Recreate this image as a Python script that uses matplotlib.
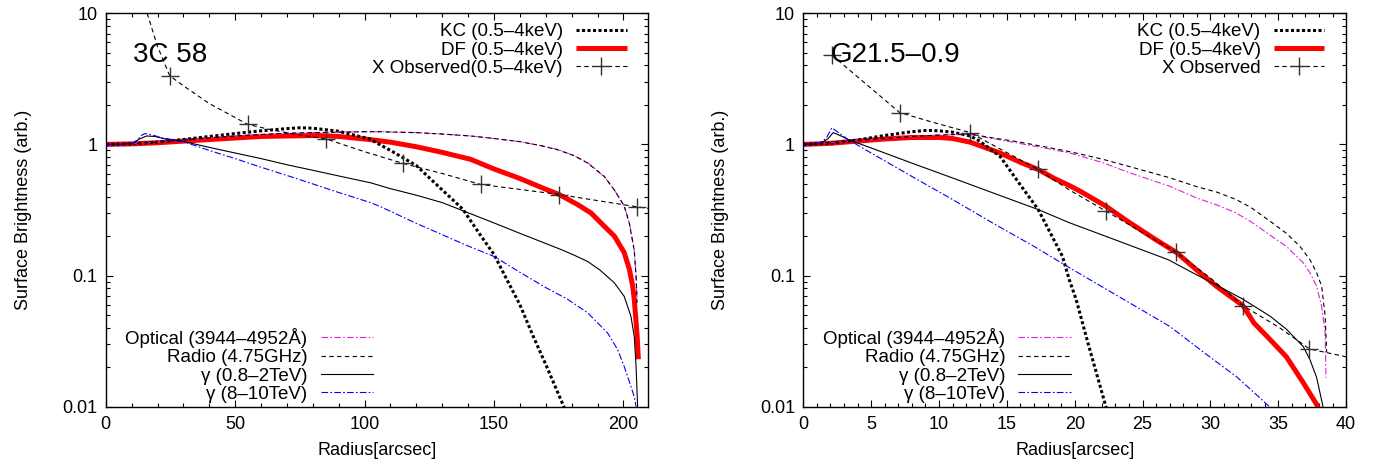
import matplotlib
matplotlib.use('Agg')
from matplotlib import pyplot as plt
from matplotlib.lines import Line2D
from matplotlib.ticker import MultipleLocator, LogLocator, FuncFormatter, NullFormatter

plt.rcParams['font.family'] = ['Liberation Sans', 'DejaVu Sans']

# ---------------- 3C 58 (left panel) ----------------
kc_l_x = [0, 10, 20, 30, 40, 50, 60, 70, 75, 80, 90, 102, 110, 120, 130, 138, 145, 150, 155, 160, 165, 170, 177, 181]
kc_l_v = [1.0, 1.01, 1.04, 1.09, 1.15, 1.21, 1.27, 1.32, 1.34, 1.33, 1.26, 1.10, 0.90, 0.69, 0.45, 0.32, 0.2, 0.145, 0.093, 0.06, 0.035, 0.021, 0.01, 0.006]

df_l_x = [0, 10, 20, 30, 40, 50, 60, 70, 82, 90, 102, 110, 120, 130, 141, 150, 160, 170, 175.2, 182.3, 187.5, 192.6, 196.5, 200.3, 202.3, 203.6, 204.2, 205.3, 205.8]
df_l_v = [1.0, 1.01, 1.03, 1.06, 1.09, 1.12, 1.15, 1.16, 1.17, 1.15, 1.09, 1.04, 0.96, 0.87, 0.77, 0.65, 0.55, 0.455, 0.415, 0.348, 0.30, 0.238, 0.20, 0.15, 0.112, 0.083, 0.066, 0.035, 0.023]

xobs_l_x = [16, 20, 24.7, 30, 40, 54.9, 65, 75, 85.2, 100, 114.9, 130, 144.9, 160, 175.2, 190, 205.1, 209.5]
xobs_l_v = [10, 5.6, 3.34, 2.8, 2.05, 1.42, 1.28, 1.18, 1.10, 0.88, 0.716, 0.60, 0.495, 0.454, 0.415, 0.373, 0.335, 0.325]
xpts_l_x = [24.7, 54.9, 85.2, 114.9, 144.9, 175.2, 205.1]
xpts_l_v = [3.34, 1.42, 1.10, 0.716, 0.495, 0.415, 0.335]

opt_l_x = [0, 10, 20, 30, 40, 50, 60, 70, 80, 90, 100, 106, 120, 130, 141, 150, 160, 168, 174.6, 181, 186.2, 192.6, 196.5, 200.3, 202.3, 204.2, 204.9, 205.3]
opt_l_v = [1.0, 1.01, 1.04, 1.08, 1.12, 1.16, 1.19, 1.21, 1.23, 1.24, 1.25, 1.25, 1.23, 1.2, 1.16, 1.11, 1.05, 0.98, 0.916, 0.82, 0.725, 0.57, 0.45, 0.34, 0.253, 0.158, 0.10, 0.066]

rad_l_x = [0, 10, 20, 30, 40, 50, 60, 70, 80, 90, 100, 106, 120, 130, 141, 150, 160, 168, 174.6, 181, 186.2, 192.6, 196.5, 200.3, 202.3, 204.2, 204.9, 205.3]
rad_l_v = [1.0, 1.01, 1.04, 1.08, 1.12, 1.16, 1.19, 1.22, 1.23, 1.24, 1.25, 1.25, 1.23, 1.2, 1.16, 1.11, 1.05, 0.98, 0.91, 0.82, 0.72, 0.57, 0.45, 0.34, 0.25, 0.155, 0.098, 0.062]

g1_l_x = [0, 5, 10.5, 13, 15.8, 19, 23, 29.4, 40, 50, 60, 70, 80, 90, 102.3, 110, 120, 130, 138.4, 150, 160, 175.9, 181, 186.2, 191, 196.5, 200.3, 202.9, 204.2, 204.9, 205.5]
g1_l_v = [1.0, 1.0, 1.02, 1.1, 1.16, 1.15, 1.1, 1.06, 0.95, 0.86, 0.78, 0.7, 0.635, 0.575, 0.51, 0.46, 0.41, 0.36, 0.31, 0.252, 0.21, 0.158, 0.143, 0.128, 0.11, 0.088, 0.0695, 0.049, 0.0344, 0.0203, 0.01]

g2_l_x = [0, 5, 10.5, 12.5, 14, 15.2, 18, 22, 29.4, 40, 50, 60, 70, 80, 90, 102.3, 106.2, 120, 130, 140, 150, 160, 170, 178.4, 186.2, 193.9, 197.8, 200.3, 202.9, 204.2, 204.9]
g2_l_v = [1.0, 1.0, 1.02, 1.1, 1.18, 1.21, 1.18, 1.12, 1.06, 0.9, 0.78, 0.67, 0.58, 0.5, 0.43, 0.36, 0.335, 0.25, 0.205, 0.168, 0.14, 0.106, 0.081, 0.066, 0.052, 0.0365, 0.0272, 0.0203, 0.0143, 0.0119, 0.01]

# ---------------- G21.5-0.9 (right panel) ----------------
kc_r_x = [0, 2, 4, 6, 8, 9.1, 10, 11, 12.3, 13, 14.5, 15, 16, 17.3, 18, 19.1, 19.6, 20.1, 21, 22.3, 22.7]
kc_r_v = [1.0, 1.02, 1.08, 1.17, 1.25, 1.28, 1.27, 1.24, 1.16, 1.06, 0.81, 0.686, 0.49, 0.32, 0.232, 0.14, 0.093, 0.066, 0.03, 0.01, 0.0075]

df_r_x = [0, 2, 4, 6, 8, 10, 11, 12.3, 13, 14.5, 16, 17.3, 18.5, 19.6, 20.4, 22.3, 24, 26, 27.5, 29, 30.5, 32.4, 33.2, 34.4, 35.6, 36.85, 37.83, 38.1]
df_r_v = [1.0, 1.02, 1.06, 1.1, 1.13, 1.13, 1.11, 1.04, 0.98, 0.86, 0.73, 0.645, 0.55, 0.486, 0.44, 0.338, 0.255, 0.187, 0.150, 0.11, 0.082, 0.059, 0.0436, 0.0325, 0.024, 0.0152, 0.0104, 0.009]

xobs_r_x = [2.1, 4.6, 7.1, 9.6, 12.3, 14.7, 17.3, 19.6, 22.3, 25.1, 27.5, 30.1, 32.4, 35.1, 37.3, 38.6, 40]
xobs_r_v = [4.8, 2.9, 1.75, 1.47, 1.23, 0.9, 0.645, 0.45, 0.31, 0.21, 0.150, 0.094, 0.059, 0.04, 0.0276, 0.0258, 0.024]
xpts_r_x = [2.1, 7.1, 12.3, 17.3, 22.3, 27.5, 32.4, 37.3]
xpts_r_v = [4.8, 1.75, 1.23, 0.645, 0.31, 0.150, 0.059, 0.0276]

opt_r_x = [0, 2, 4, 6, 8, 10, 12.3, 14, 16, 18, 19.65, 22, 24, 27.0, 29, 30.5, 31.9, 33.0, 34.5, 35.6, 36.85, 37.34, 37.83, 38.2, 38.45, 38.52]
opt_r_v = [1.0, 1.03, 1.07, 1.11, 1.15, 1.18, 1.19, 1.107, 1.015, 0.93, 0.86, 0.73, 0.61, 0.48, 0.39, 0.345, 0.30, 0.257, 0.2, 0.167, 0.125, 0.105, 0.083, 0.058, 0.037, 0.0166]

rad_r_x = [0, 2, 4, 6, 8, 10, 12.3, 14, 16, 18, 19.65, 22, 24, 27.0, 29, 30.5, 31.9, 33.0, 34.5, 35.6, 36.6, 37.34, 37.83, 38.2, 38.45, 38.57]
rad_r_v = [1.0, 1.03, 1.07, 1.11, 1.15, 1.18, 1.2, 1.12, 1.04, 0.95, 0.88, 0.774, 0.68, 0.557, 0.476, 0.432, 0.38, 0.33, 0.255, 0.21, 0.167, 0.132, 0.105, 0.083, 0.05, 0.026]

g1_r_x = [0, 1.2, 1.8, 2.2, 2.7, 3.3, 5, 8, 11, 14, 17.3, 19.6, 23, 26.9, 28.7, 30.6, 32.4, 34.4, 35.6, 36.85, 37.34, 37.83, 38.3]
g1_r_v = [1.0, 1.01, 1.1, 1.23, 1.17, 1.09, 0.94, 0.72, 0.555, 0.426, 0.319, 0.253, 0.187, 0.132, 0.105, 0.083, 0.066, 0.049, 0.039, 0.0287, 0.0228, 0.0167, 0.01]

g2_r_x = [0, 1.2, 1.7, 2.1, 2.5, 3.3, 5, 8, 11, 14, 17, 19.6, 23, 27, 29.5, 31.9, 33.3, 34.35]
g2_r_v = [1.0, 1.02, 1.12, 1.34, 1.25, 1.09, 0.86, 0.57, 0.38, 0.25, 0.167, 0.115, 0.0716, 0.041, 0.026, 0.017, 0.0126, 0.01]

panels = [
    dict(name='3C 58', xmax=209.6, xmaj=50, xmin=10,
         kc=(kc_l_x, kc_l_v), df=(df_l_x, df_l_v), xl=(xobs_l_x, xobs_l_v), xp=(xpts_l_x, xpts_l_v),
         opt=(opt_l_x, opt_l_v), rad=(rad_l_x, rad_l_v), g1=(g1_l_x, g1_l_v), g2=(g2_l_x, g2_l_v),
         xlab='X Observed(0.5–4keV)', rect=[0.0763, 0.1347, 0.3914, 0.837]),
    dict(name='G21.5–0.9', xmax=40, xmaj=5, xmin=1,
         kc=(kc_r_x, kc_r_v), df=(df_r_x, df_r_v), xl=(xobs_r_x, xobs_r_v), xp=(xpts_r_x, xpts_r_v),
         opt=(opt_r_x, opt_r_v), rad=(rad_r_x, rad_r_v), g1=(g1_r_x, g1_r_v), g2=(g2_r_x, g2_r_v),
         xlab='X Observed', rect=[0.5796, 0.1347, 0.3916, 0.837]),
]

fig = plt.figure(figsize=(13.86, 4.70), dpi=100)
FS = 13
LFS = 13.5
magenta = '#e020e0'

for p in panels:
    ax = fig.add_axes(p['rect'])
    ax.set_yscale('log')

    # style of each series
    kc_style = dict(color='black', lw=2.2, linestyle=(0, (1, 0.8)))
    df_style = dict(color='red', lw=3.6, solid_capstyle='butt')
    xo_style = dict(color='black', lw=0.8, linestyle=(0, (4, 3)))
    op_style = dict(color=magenta, lw=0.8, linestyle=(0, (6, 2, 1.5, 2)))
    ra_style = dict(color='black', lw=0.8, linestyle=(0, (4, 3)))
    g1_style = dict(color='black', lw=0.8)
    g2_style = dict(color='blue', lw=0.8, linestyle=(0, (6, 2, 1.5, 2)))

    ax.plot(*p['df'], **df_style)
    ax.plot(*p['kc'], **kc_style)
    ax.plot(*p['opt'], **op_style)
    ax.plot(*p['rad'], **ra_style)
    ax.plot(*p['g1'], **g1_style)
    ax.plot(*p['g2'], **g2_style)
    ax.plot(*p['xl'], **xo_style)
    ax.plot(*p['xp'], linestyle='none', marker='+', ms=13, mew=1.0, color='0.2')

    ax.set_xlim(0, p['xmax'])
    ax.set_ylim(0.01, 10)
    ax.xaxis.set_major_locator(MultipleLocator(p['xmaj']))
    ax.xaxis.set_minor_locator(MultipleLocator(p['xmin']))
    ax.yaxis.set_major_locator(LogLocator(base=10, numticks=10))
    ax.yaxis.set_minor_locator(LogLocator(base=10, subs=range(2, 10), numticks=10))
    ax.yaxis.set_major_formatter(FuncFormatter(lambda v, pos: '%g' % v))
    ax.yaxis.set_minor_formatter(NullFormatter())
    ax.tick_params(which='both', direction='in', top=True, right=True, labelsize=FS)
    ax.tick_params(which='major', length=5, width=0.8)
    ax.tick_params(which='minor', length=3, width=0.8)
    ax.tick_params(axis='x', pad=7)
    ax.tick_params(axis='y', pad=6)
    for s in ax.spines.values():
        s.set_linewidth(1.0)

    ax.set_xlabel('Radius[arcsec]', fontsize=FS, labelpad=6)
    ax.set_ylabel('Surface Brightness (arb.)', fontsize=FS, labelpad=22)
    ax.text(0.05, 0.876, p['name'], transform=ax.transAxes, fontsize=20,
            ha='left', va='baseline')

    h_top = [Line2D([], [], **kc_style), Line2D([], [], **df_style),
             Line2D([], [], marker='+', ms=13, mew=1.0, mec='0.2', **xo_style)]
    leg1 = ax.legend(h_top, ['KC (0.5–4keV)', 'DF (0.5–4keV)', p['xlab']],
                     loc='upper right', bbox_to_anchor=(0.96, 0.975), frameon=False,
                     markerfirst=False, numpoints=1, fontsize=LFS, handlelength=2.7,
                     handletextpad=0.7, labelspacing=0.06, borderpad=0, borderaxespad=0)
    ax.add_artist(leg1)

    h_bot = [Line2D([], [], **op_style), Line2D([], [], **ra_style),
             Line2D([], [], **g1_style), Line2D([], [], **g2_style)]
    ax.legend(h_bot, ['Optical (3944–4952Å)', 'Radio (4.75GHz)', 'γ (0.8–2TeV)', 'γ (8–10TeV)'],
              loc='lower right', bbox_to_anchor=(0.493, 0.01), frameon=False,
              markerfirst=False, fontsize=LFS, handlelength=2.8,
              handletextpad=0.7, labelspacing=0.06, borderpad=0, borderaxespad=0)

fig.savefig('out.png', dpi=100)
